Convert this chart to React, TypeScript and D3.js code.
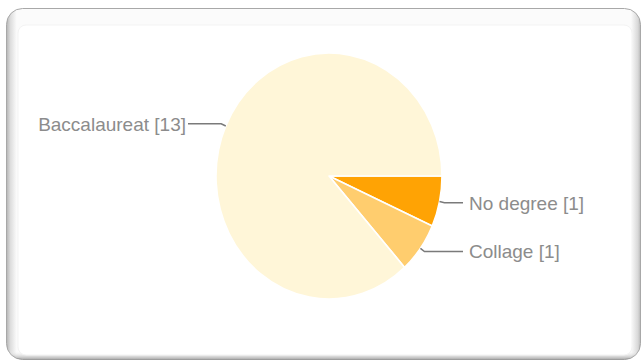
import React from "react";
import * as d3 from "d3";

const categories = ["No degree", "Collage", "Baccalaureat"];
const values = [1, 1, 13];
const colors = ["#ffa304", "#ffcd6e", "#fff6d8"];

const W = 642;
const H = 362;

export default function App() {
  const cx = 329;
  const cy = 176;
  const rx = 113;
  const ry = 123;
  const sy = ry / rx;

  const pie = d3
    .pie<number>()
    .sort(null)
    .value((d) => d)
    .startAngle(Math.PI / 2)
    .endAngle(Math.PI / 2 + 2 * Math.PI);
  const arcs = pie(values);
  const arc = d3.arc<d3.PieArcDatum<number>>().innerRadius(0).outerRadius(rx);

  const pt = (a: number, r: number) => [
    cx + r * Math.sin(a),
    cy - r * sy * Math.cos(a),
  ];

  return (
    <svg
      width={W}
      height={H}
      style={{ position: "absolute", left: 0, top: 0, background: "#fff" }}
      fontFamily="'Liberation Sans', Arial, sans-serif"
    >
      <defs>
        <linearGradient id="lg" x1="0" x2="1" y1="0" y2="0">
          <stop offset="0" stopColor="#b4b4b4" />
          <stop offset="0.006" stopColor="#dcdcdc" />
          <stop offset="0.016" stopColor="#fbfbfb" />
          <stop offset="0.985" stopColor="#fbfbfb" />
          <stop offset="0.996" stopColor="#d8d8d8" />
          <stop offset="1" stopColor="#b8b8b8" />
        </linearGradient>
        <linearGradient id="lgv" x1="0" x2="0" y1="0" y2="1">
          <stop offset="0" stopColor="#ffffff" stopOpacity="0" />
          <stop offset="0.975" stopColor="#ffffff" stopOpacity="0" />
          <stop offset="1" stopColor="#8a8a8a" stopOpacity="0.75" />
        </linearGradient>
      </defs>
      <rect x={6.5} y={8.5} width={634} height={351} rx={16} fill="url(#lg)" stroke="#a8a8a8" />
      <rect x={6.5} y={8.5} width={634} height={351} rx={16} fill="url(#lgv)" />
      <rect x={18} y={25} width={614} height={330} rx={8} fill="#ffffff" stroke="#f3f3f3" />

      <g transform={`translate(${cx},${cy}) scale(1,${sy})`}>
        {arcs.map((a, i) => (
          <path
            key={categories[i]}
            d={arc(a) || ""}
            fill={colors[i]}
            stroke="#ffffff"
            strokeWidth={1.6}
            vectorEffect="non-scaling-stroke"
            strokeLinejoin="round"
          />
        ))}
      </g>

      {arcs.map((a, i) => {
        const mid = (a.startAngle + a.endAngle) / 2;
        const [x0, y0] = pt(mid, rx);
        const [x1, y1] = pt(mid, rx + 5);
        const right = Math.sin(mid) > 0;
        const x2 = right ? 463 : 188;
        const tx = right ? 469 : 186;
        return (
          <g key={categories[i]}>
            <polyline
              points={`${x0},${y0} ${x1},${y1} ${x2},${y1}`}
              fill="none"
              stroke="#7a7a7a"
              strokeWidth={1.5}
            />
            <text
              x={tx}
              y={y1 + 7}
              textAnchor={right ? "start" : "end"}
              fontSize={19}
              fill="#8c8c8c"
            >
              {`${categories[i]} [${values[i]}]`}
            </text>
          </g>
        );
      })}
    </svg>
  );
}
